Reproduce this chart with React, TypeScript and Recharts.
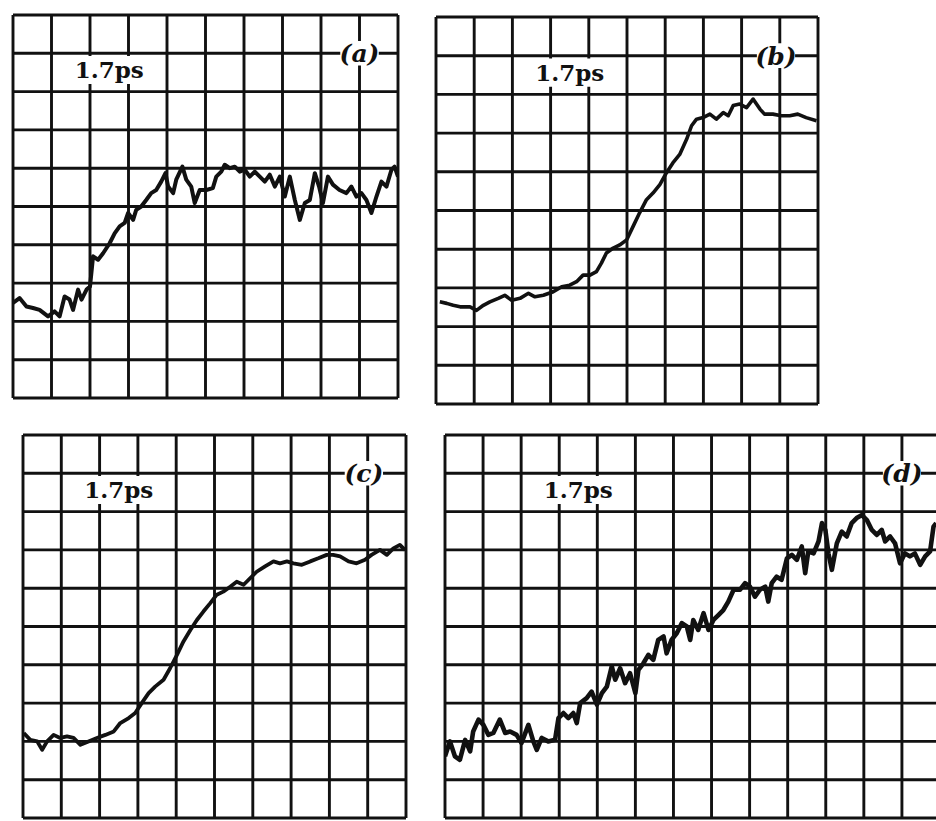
import { CartesianGrid, Line, LineChart, ReferenceArea, XAxis, YAxis } from "recharts"

// traces, [x div, y div] (y counted from bottom)
const traceA: [number, number][] = [
    [0, 2.48], [0.17, 2.61], [0.35, 2.39], [0.52, 2.35], [0.69, 2.3], [0.91, 2.13], [1.08, 2.26],
    [1.21, 2.13], [1.34, 2.65], [1.47, 2.57], [1.56, 2.3], [1.69, 2.83], [1.78, 2.57], [1.91, 2.83],
    [2.0, 2.91], [2.08, 3.7], [2.21, 3.61], [2.34, 3.78], [2.51, 4.04], [2.64, 4.3], [2.77, 4.48],
    [2.9, 4.57], [2.99, 4.83], [3.12, 4.65], [3.2, 4.91], [3.33, 5.0], [3.46, 5.17], [3.59, 5.35],
    [3.72, 5.43], [3.85, 5.65], [3.96, 5.87], [4.03, 5.52], [4.16, 5.35], [4.24, 5.7], [4.4, 6.04],
    [4.5, 5.7], [4.63, 5.52], [4.72, 5.09], [4.85, 5.43], [5.02, 5.43], [5.19, 5.48], [5.28, 5.78],
    [5.41, 5.91], [5.5, 6.09], [5.63, 6.0], [5.76, 6.04], [5.89, 5.91], [6.02, 5.96], [6.15, 5.78],
    [6.28, 5.91], [6.41, 5.78], [6.54, 5.65], [6.67, 5.83], [6.8, 5.52], [6.93, 5.78], [7.06, 5.26],
    [7.19, 5.78], [7.32, 5.17], [7.45, 4.65], [7.58, 5.09], [7.71, 5.17], [7.84, 5.87], [7.95, 5.52],
    [8.05, 5.09], [8.18, 5.78], [8.31, 5.57], [8.48, 5.43], [8.66, 5.35], [8.79, 5.52], [8.92, 5.26],
    [9.05, 5.35], [9.18, 5.17], [9.31, 4.83], [9.44, 5.26], [9.57, 5.65], [9.7, 5.52], [9.83, 5.96],
    [9.91, 6.04], [10, 5.78],
]

const traceB: [number, number][] = [
    [0.1, 2.64], [0.28, 2.6], [0.45, 2.55], [0.63, 2.51], [0.89, 2.51], [1.06, 2.42], [1.24, 2.55],
    [1.41, 2.64], [1.63, 2.73], [1.8, 2.81], [1.98, 2.68], [2.2, 2.73], [2.42, 2.86], [2.59, 2.77],
    [2.81, 2.81], [3.07, 2.9], [3.29, 3.03], [3.5, 3.07], [3.68, 3.16], [3.85, 3.33], [4.03, 3.33],
    [4.2, 3.42], [4.33, 3.64], [4.46, 3.9], [4.64, 4.03], [4.81, 4.11], [4.99, 4.24], [5.16, 4.59],
    [5.33, 4.94], [5.51, 5.28], [5.68, 5.45], [5.86, 5.67], [6.03, 5.97], [6.2, 6.23], [6.38, 6.45],
    [6.56, 6.84], [6.69, 7.19], [6.82, 7.36], [6.99, 7.4], [7.17, 7.49], [7.34, 7.36], [7.52, 7.53],
    [7.65, 7.45], [7.78, 7.71], [7.95, 7.75], [8.13, 7.66], [8.3, 7.88], [8.48, 7.62], [8.6, 7.49],
    [8.82, 7.49], [9.04, 7.45], [9.26, 7.45], [9.47, 7.49], [9.69, 7.4], [9.96, 7.32],
]

const traceC: [number, number][] = [
    [0.02, 2.22], [0.19, 2.04], [0.37, 2.0], [0.5, 1.78], [0.63, 2.0], [0.8, 2.17], [0.97, 2.09],
    [1.15, 2.13], [1.32, 2.09], [1.5, 1.91], [1.71, 2.0], [1.93, 2.09], [2.15, 2.17], [2.37, 2.26],
    [2.54, 2.48], [2.76, 2.61], [2.93, 2.74], [3.1, 3.0], [3.28, 3.26], [3.45, 3.43], [3.67, 3.61],
    [3.84, 3.91], [4.02, 4.26], [4.19, 4.61], [4.37, 4.91], [4.54, 5.17], [4.71, 5.39], [4.89, 5.61],
    [5.06, 5.83], [5.23, 5.91], [5.41, 6.04], [5.58, 6.17], [5.76, 6.09], [5.93, 6.26], [6.1, 6.43],
    [6.32, 6.57], [6.54, 6.7], [6.71, 6.65], [6.89, 6.7], [7.06, 6.65], [7.28, 6.61], [7.5, 6.7],
    [7.71, 6.78], [7.93, 6.87], [8.1, 6.87], [8.28, 6.83], [8.5, 6.7], [8.71, 6.65], [8.93, 6.74],
    [9.1, 6.87], [9.32, 7.0], [9.5, 6.87], [9.67, 7.04], [9.84, 7.13], [9.97, 7.0],
]

const traceD: [number, number][] = [
    [0, 1.61], [0.13, 2.0], [0.26, 1.61], [0.39, 1.52], [0.53, 2.04], [0.66, 1.74], [0.74, 2.26],
    [0.88, 2.57], [1.01, 2.43], [1.14, 2.17], [1.27, 2.22], [1.44, 2.57], [1.58, 2.22], [1.71, 2.26],
    [1.88, 2.17], [2.01, 1.96], [2.19, 2.43], [2.32, 2.0], [2.41, 1.78], [2.54, 2.09], [2.71, 2.0],
    [2.89, 2.04], [2.98, 2.61], [3.11, 2.74], [3.24, 2.61], [3.37, 2.74], [3.46, 2.48], [3.55, 3.0],
    [3.72, 3.13], [3.85, 3.3], [3.99, 2.96], [4.12, 3.26], [4.25, 3.43], [4.38, 3.96], [4.47, 3.61],
    [4.6, 3.91], [4.73, 3.52], [4.86, 3.78], [5.0, 3.26], [5.08, 3.87], [5.21, 4.04], [5.34, 4.26],
    [5.47, 4.13], [5.6, 4.65], [5.74, 4.74], [5.82, 4.3], [5.95, 4.65], [6.09, 4.83], [6.22, 5.09],
    [6.35, 5.0], [6.44, 4.65], [6.52, 5.17], [6.65, 4.91], [6.79, 5.35], [6.92, 4.91], [7.05, 5.17],
    [7.18, 5.3], [7.31, 5.43], [7.44, 5.65], [7.58, 5.96], [7.75, 5.96], [7.88, 6.13], [8.01, 6.04],
    [8.14, 5.78], [8.27, 5.96], [8.41, 6.04], [8.49, 5.65], [8.58, 6.13], [8.71, 6.3], [8.84, 6.22],
    [8.98, 6.78], [9.11, 6.87], [9.24, 6.74], [9.37, 7.09], [9.46, 6.39], [9.54, 6.96], [9.68, 6.91],
    [9.81, 7.22], [9.9, 7.7], [9.99, 7.52], [10.07, 6.91], [10.16, 6.48], [10.29, 7.17], [10.42, 7.48],
    [10.55, 7.35], [10.68, 7.7], [10.81, 7.83], [10.95, 7.91], [11.08, 7.78], [11.21, 7.52],
    [11.34, 7.39], [11.47, 7.52], [11.56, 7.22], [11.69, 7.35], [11.82, 7.17], [11.95, 6.65],
    [12.08, 6.91], [12.21, 6.83], [12.34, 6.91], [12.48, 6.61], [12.61, 6.83], [12.74, 6.96],
    [12.83, 7.61], [12.9, 7.7],
]

const TIME_LABEL = "1.7ps"
const INK = "#111"
const PAD = 6

const range = (n: number) => Array.from({ length: n + 1 }, (_, i) => i)

interface PanelProps {
    left: number
    top: number
    width: number
    height: number
    xDivs: number
    trace: [number, number][]
    traceWidth: number
    tag: string
    tagX: number
    markX: number
}

function Panel({ left, top, width, height, xDivs, trace, traceWidth, tag, tagX, markX }: PanelProps) {
    const data = trace.map(([x, y]) => ({ x, y }))
    return (
        <div style={{ position: "absolute", left: left - PAD, top: top - PAD }}>
            <LineChart
                width={width + PAD * 2}
                height={height + PAD * 2}
                data={data}
                margin={{ top: PAD, right: PAD, bottom: PAD, left: PAD }}
            >
                <XAxis type="number" dataKey="x" domain={[0, xDivs]} ticks={range(xDivs)} hide allowDataOverflow />
                <YAxis type="number" domain={[0, 10]} ticks={range(10)} hide allowDataOverflow />
                <CartesianGrid stroke={INK} strokeWidth={2.9} />
                {/* 1.7ps label box, leaves short tick stubs on the grid below it */}
                <ReferenceArea
                    x1={markX - 0.5}
                    x2={markX + 1.5}
                    y1={8.2}
                    y2={8.93}
                    fill="#fff"
                    fillOpacity={1}
                    stroke="none"
                    label={{
                        value: TIME_LABEL,
                        position: "center",
                        fill: INK,
                        fontSize: 23,
                        fontWeight: "bold",
                        fontFamily: "'DejaVu Serif', serif",
                    }}
                />
                <ReferenceArea
                    x1={tagX - 0.5}
                    x2={tagX + 0.5}
                    y1={8.68}
                    y2={9.32}
                    fill="#fff"
                    fillOpacity={1}
                    stroke="none"
                    label={{
                        value: tag,
                        position: "center",
                        fill: INK,
                        fontSize: 25,
                        fontStyle: "italic",
                        fontWeight: "bold",
                        fontFamily: "'DejaVu Serif', serif",
                    }}
                />
                <Line
                    type="linear"
                    dataKey="y"
                    stroke={INK}
                    strokeWidth={traceWidth}
                    strokeLinejoin="round"
                    dot={false}
                    isAnimationActive={false}
                />
            </LineChart>
        </div>
    )
}

export default function App() {
    return (
        <div
            style={{
                position: "fixed",
                left: 0,
                top: 0,
                width: 936,
                height: 821,
                overflow: "hidden",
                background: "#fff",
            }}
        >
            <Panel left={13} top={15} width={385} height={383} xDivs={10} trace={traceA} traceWidth={4} tag="(a)" tagX={9} markX={2} />
            <Panel left={436} top={17} width={382} height={387} xDivs={10} trace={traceB} traceWidth={3.6} tag="(b)" tagX={8.9} markX={3} />
            <Panel left={23} top={435} width={383} height={383} xDivs={10} trace={traceC} traceWidth={3.8} tag="(c)" tagX={8.9} markX={2} />
            <Panel left={445} top={435} width={495} height={383} xDivs={13} trace={traceD} traceWidth={4.6} tag="(d)" tagX={12} markX={3} />
        </div>
    )
}
